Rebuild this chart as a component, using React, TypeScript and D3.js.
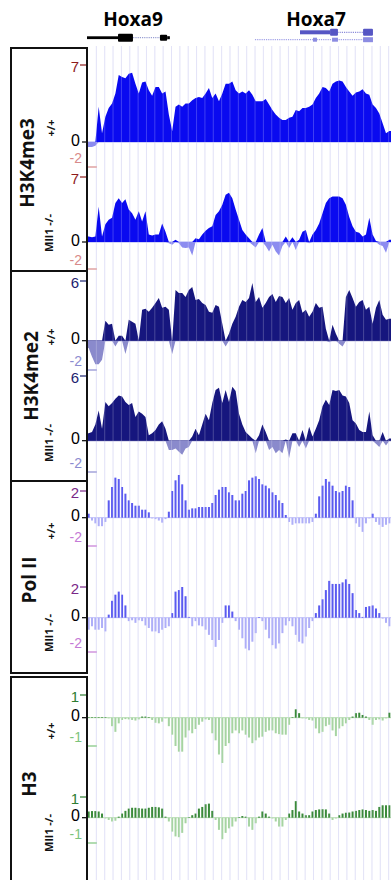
import React from "react";
import * as d3 from "d3";

const WIDTH = 391;
const HEIGHT = 880;
const PLOT_LEFT = 87;
const BIN_KB = 0.25;

// signal per 0.25 kb bin
const h3k4me3WT = [
  -0.4, -0.4, -0.3, 3.2, 0.8, 2.3, 3.1, 3.5, 4.4, 6.1,
  5.9, 5.8, 6.2, 6.3, 5.3, 4.4, 5.4, 5.5, 4.7, 4.2,
  5.0, 5.0, 4.4, 4.6, 2.5, 1.0, 3.2, 3.4, 3.2, 3.5,
  3.5, 3.8, 4.0, 4.1, 4.0, 4.4, 4.9, 4.0, 4.4, 3.7,
  4.4, 5.3, 5.3, 5.5, 4.7, 4.4, 4.6, 4.4, 4.7, 4.3,
  3.7, 3.7, 3.7, 3.9, 3.4, 2.9, 2.5, 2.2, 2.0, 2.0,
  2.2, 2.3, 2.9, 2.8, 3.1, 3.1, 3.2, 3.4, 4.0, 4.4,
  5.0, 4.9, 4.6, 5.3, 5.5, 5.6, 5.5, 5.0, 4.6, 4.2,
  4.5, 4.6, 4.8, 4.4, 4.3, 3.4, 3.1, 2.6, 1.7, 0.8,
  1.0,
];
const h3k4me3KO = [
  0.6, 0.5, 0.6, 3.8, 0.6, 1.9, 2.4, 2.6, 4.2, 4.7,
  4.2, 4.6, 3.5, 3.1, 2.4, 3.3, 2.2, 3.3, 0.8, 0.7,
  0.8, 0.8, 2.0, 1.1, -0.1, -0.2, 0.25, -0.1, -0.4, -0.45,
  -0.4, -1.0, 0.4, 0.3, 0.8, 1.2, 1.5, 1.7, 2.9, 3.3,
  4.0, 5.1, 5.3, 4.7, 3.5, 2.4, 1.3, 0.8, 0.4, -0.2,
  -0.4, 0.8, 1.5, -0.3, -0.7, -0.2, -0.7, -1.0, -0.3, 0.6,
  -0.45, 0.5, -0.6, 0.25, 1.1, 1.3, -0.1, 0.8, 1.3, 2.0,
  3.1, 4.2, 4.7, 4.9, 4.9, 4.9, 4.7, 4.0, 2.7, 1.7,
  1.1, 1.0, 0.6, 0.8, 2.6, 0.8, 0.1, -0.2, -0.3, -0.8,
  0.25,
];
const h3k4me2WT = [
  -0.5, -1.1, -1.6, -1.6, -1.3, 2.0, 1.6, 1.7, -0.4, 0.5,
  0.5, -0.9, 2.1, 1.9, 1.7, 0.05, 3.1, 3.2, 2.9, 3.3,
  3.8, 4.3, 3.3, 3.4, 3.1, -0.9, 5.1, 4.8, 4.8, 4.4,
  5.1, 5.4, 4.1, 4.2, 3.8, 3.6, 2.9, 2.8, 3.6, 3.4,
  1.7, -0.4, 0.7, 1.7, 2.4, 3.4, 4.1, 3.9, 4.3, 5.8,
  3.9, 4.4, 3.3, 3.8, 4.4, 4.7, 3.9, 4.5, 4.4, 3.8,
  4.3, 3.1, 3.8, 4.1, 2.8, 3.1, 2.4, 2.9, 3.8, 3.3,
  3.4, 1.2, -0.1, 1.6, 0.7, -0.2, -0.4, 4.4, 5.1, 4.3,
  3.4, 3.9, 4.1, 3.1, 3.4, 1.7, 3.3, 4.1, 2.6, 2.1,
  2.2,
];
const h3k4me2KO = [
  0.7, 0.8, 1.5, 2.8, 1.1, 3.6, 3.2, 3.5, 3.9, 4.2,
  4.1, 3.6, 3.3, 3.5, 2.2, 2.7, 2.5, 2.2, 0.5, 0.7,
  1.0, 1.5, 1.8, 1.1, -0.6, -0.6, -0.5, -0.7, -0.9, -0.5,
  -0.4, 0.4, 1.1, 0.5, 1.5, 2.5, 1.9, 3.5, 4.7, 4.9,
  3.5, 4.7, 3.6, 5.0, 4.6, 2.5, 1.5, 0.8, 0.5, 0.2,
  -0.8, 0.5, 1.5, 0.8, -0.6, -0.4, -0.8, -0.6, -0.8, 0.1,
  -1.1, 0.7, 0.7, -0.4, 1.0, -0.5, 1.3, 0.4, 1.1, 1.9,
  3.2, 3.8, 3.3, 4.7, 4.6, 4.7, 4.2, 4.1, 3.5, 1.9,
  1.6, 1.0, 0.8, 0.8, 2.7, 0.5, -0.2, -0.4, 0.8, -0.3,
  0.2,
];
const polIIWT = [
  0.3, -0.2, -0.4, -0.6, -0.6, -0.3, 1.3, 2.3, 3.0, 2.9,
  2.3, 1.8, 1.3, 1.1, 0.9, 0.9, 0.6, 0.6, 0.4, -0.05,
  -0.1, -0.2, -0.35, -0.1, 0.45, 2.0, 2.8, 3.2, 2.5, 1.3,
  0.6, 0.7, 0.7, 0.8, 0.8, 0.8, 0.8, 1.1, 1.7, 2.1,
  2.3, 2.3, 1.9, 1.7, 1.3, 1.3, 1.8, 2.0, 2.8, 3.0,
  3.1, 2.9, 2.5, 2.4, 2.2, 1.9, 1.7, 1.3, 1.1, 0.2,
  -0.3, -0.5, -0.4, -0.4, -0.4, -0.4, -0.4, -0.3, 0.3, 1.6,
  2.4, 2.9, 2.7, 2.4, 2.0, 1.9, 2.0, 2.4, 2.3, 1.3,
  -0.4, -0.65, -1.0, -0.4, -0.05, 0.3, -0.3, -0.5, -0.65, -0.5,
  -0.4,
];
const polIIKO = [
  -0.7, -0.5, -0.7, -0.7, -0.6, -0.8, 0.2, 1.1, 1.5, 1.7,
  1.5, 0.8, -0.2, -0.15, -0.3, -0.15, -0.2, -0.45, -0.6, -0.8,
  -0.8, -0.9, -0.7, -0.6, -0.5, 0.3, 1.7, 1.8, 2.0, 1.4,
  0.05, -0.5, -0.2, -0.45, -0.5, -0.7, -1.0, -1.3, -1.7, -1.3,
  -0.3, 0.8, 0.8, 0.4, -0.2, -0.7, -1.2, -1.8, -1.9, -1.4,
  -0.9, 0.0, -0.2, -0.7, -1.2, -1.6, -1.8, -1.5, -0.9, -0.45,
  -0.2, -0.5, -1.0, -1.4, -1.5, -1.1, -0.6, -0.2, 0.3, 0.8,
  1.2, 1.8, 2.4, 2.2, 2.2, 2.2, 2.3, 2.5, 2.2, 1.6,
  0.5, 0.3, 0.05, 0.7, 0.75, 0.8, 0.6, 0.3, -0.05, -0.3,
  -0.5,
];
const h3WT = [
  0.02, 0.02, 0.02, 0.02, 0.02, 0.02, -0.02, -0.3, -0.5, -0.2,
  -0.08, -0.05, -0.06, -0.08, -0.1, -0.06, 0.05, 0.05, 0.02, -0.08,
  -0.18, -0.2, -0.14, -0.02, -0.3, -0.6, -1.0, -1.2, -1.2, -0.7,
  -0.45, -0.55, -0.4, -0.25, -0.14, -0.06, -0.08, -0.55, -0.8, -1.3,
  -1.6, -1.0, -0.9, -0.55, -0.45, -0.55, -0.45, -0.6, -0.7, -0.9,
  -0.8, -0.7, -0.67, -0.5, -0.45, -0.45, -0.55, -0.58, -0.6, -0.6,
  -0.25, 0.0, 0.37, 0.2, -0.02, -0.03, -0.08, -0.1, -0.38, -0.55,
  -0.5, -0.3, -0.25, -0.45, -0.65, -0.38, -0.3, -0.2, -0.08, 0.05,
  0.2, 0.22, 0.12, 0.05, -0.08, -0.25, -0.08, -0.06, -0.1, -0.02,
  0.22,
];
const h3KO = [
  0.3, 0.32, 0.32, 0.3, 0.2, -0.03, -0.09, -0.15, -0.12, 0.05,
  0.2, 0.33, 0.44, 0.48, 0.48, 0.46, 0.44, 0.44, 0.48, 0.52,
  0.52, 0.5, 0.44, 0.05, -0.15, -0.55, -0.74, -0.77, -0.6, -0.22,
  0.0, 0.12, 0.2, 0.44, 0.52, 0.65, 0.68, 0.33, -0.09, -0.48,
  -0.85, -0.6, -0.42, -0.35, -0.15, 0.0, 0.08, 0.05, -0.35, -0.48,
  -0.22, 0.05, 0.3, 0.2, 0.05, -0.03, -0.15, -0.35, -0.35, -0.09,
  0.2, 0.37, 0.8, 0.3, 0.2, 0.12, 0.12, 0.3, 0.37, 0.4,
  0.41, 0.4, 0.2, -0.09, -0.03, 0.12, 0.2, 0.24, 0.25, 0.3,
  0.33, 0.37, 0.4, 0.37, 0.33, 0.37, 0.33, 0.52, 0.6, 0.6,
  0.6,
];

const N_BINS = h3k4me3WT.length;
const REGION_KB = N_BINS * BIN_KB;

// genes (kb)
const geneNames = ["Hoxa9", "Hoxa7"];
const geneNameKb = [3.44, 17.14];

interface Transcript {
  y: number;
  start: number;
  end: number;
  color: string;
  intron: string;
  blocks: [number, number, number][];
}

const transcripts: Transcript[] = [
  {
    y: 37.7, start: 0, end: 6.2, color: "#000", intron: "#8088c8",
    blocks: [[0, 2.32, 2.8], [2.32, 3.44, 8], [5.46, 6.0, 6], [6.0, 6.2, 3]],
  },
  {
    y: 32.3, start: 15.94, end: 21.4, color: "#5656c4", intron: "#7070d0",
    blocks: [[15.94, 18.19, 4], [18.19, 18.78, 7], [20.66, 21.4, 7]],
  },
  {
    y: 39.7, start: 12.57, end: 21.4, color: "#8c8ce2", intron: "#8c8ce2",
    blocks: [[16.91, 17.21, 4], [18.34, 18.78, 4], [20.66, 21.4, 5]],
  },
];

// vertical guide lines (kb)
const gridKb = d3.range(0.7, REGION_KB, 0.625);

interface TrackDef {
  values: number[];
  kind: "area" | "bar";
  lo: number;
  hi: number;
  yHi: number;
  y0: number;
  yLo: number;
  pos: string;
  neg: string;
  zero: string;
  hiColor: string;
  loColor: string;
}

const tracks: TrackDef[] = [
  { values: h3k4me3WT, kind: "area", lo: -2, hi: 7, yHi: 65, y0: 142, yLo: 167,
    pos: "#0a0af0", neg: "#8c8cf0", zero: "#a4a8f2", hiColor: "#8e1c1c", loColor: "#d88a8a" },
  { values: h3k4me3KO, kind: "area", lo: -2, hi: 7, yHi: 177, y0: 242, yLo: 269,
    pos: "#0a0af0", neg: "#8c8cf0", zero: "#a4a8f2", hiColor: "#8e1c1c", loColor: "#d88a8a" },
  { values: h3k4me2WT, kind: "area", lo: -2, hi: 6, yHi: 281, y0: 340.7, yLo: 370,
    pos: "#16167e", neg: "#8a8acc", zero: "#5a5aa8", hiColor: "#1c2370", loColor: "#8c8cd0" },
  { values: h3k4me2KO, kind: "area", lo: -2, hi: 6, yHi: 376, y0: 440.7, yLo: 472,
    pos: "#16167e", neg: "#8a8acc", zero: "#5a5aa8", hiColor: "#1c2370", loColor: "#8c8cd0" },
  { values: polIIWT, kind: "bar", lo: -2, hi: 2, yHi: 491, y0: 517.7, yLo: 546,
    pos: "#5a5af0", neg: "#aeaef8", zero: "#c0c0f8", hiColor: "#7a2888", loColor: "#c47ad6" },
  { values: polIIKO, kind: "bar", lo: -2, hi: 2, yHi: 587, y0: 617.7, yLo: 652,
    pos: "#5a5af0", neg: "#aeaef8", zero: "#c0c0f8", hiColor: "#7a2888", loColor: "#c47ad6" },
  { values: h3WT, kind: "bar", lo: -1, hi: 1, yHi: 695, y0: 717.7, yLo: 746,
    pos: "#3a8a3a", neg: "#a6d4a2", zero: "#b8dcb4", hiColor: "#2e7d32", loColor: "#7cc47c" },
  { values: h3KO, kind: "bar", lo: -1, hi: 1, yHi: 797, y0: 817.7, yLo: 843,
    pos: "#3a8a3a", neg: "#a6d4a2", zero: "#b8dcb4", hiColor: "#2e7d32", loColor: "#7cc47c" },
];

const groupNames = ["H3K4me3", "H3K4me2", "Pol II", "H3"];
const groupBoxes: [number, number][] = [[48, 271], [271, 481], [481, 673], [677, 886]];
const groupLabelPos: [number, number][] = [[27, 163], [31, 376], [29, 580], [29, 784]];
const genotypeLabels = ["+/+", "Mll1 -/-"];
const genotypeLabelPos: [number, number][][] = [
  [[50, 128], [48, 233]],
  [[50, 337], [48, 443]],
  [[50, 531], [48, 633]],
  [[50, 731], [48, 833]],
];

const TICK_FONT = "'Liberation Sans', Arial, sans-serif";

const x = d3.scaleLinear().domain([0, REGION_KB]).range([PLOT_LEFT, WIDTH]);

const Track: React.FC<{ t: TrackDef }> = ({ t }) => {
  const y = d3.scaleLinear().domain([t.lo, 0, t.hi]).range([t.yLo, t.y0, t.yHi]);
  const n = t.values.length;
  const binW = x(BIN_KB) - x(0);

  let marks: React.ReactNode;
  if (t.kind === "area") {
    const pts: [number, number][] = [
      [0, t.values[0]],
      ...t.values.map((v, i) => [(i + 0.5) * BIN_KB, v] as [number, number]),
      [n * BIN_KB, t.values[n - 1]],
    ];
    const posArea = d3.area<[number, number]>()
      .x((d) => x(d[0]))
      .y0(y(0))
      .y1((d) => y(Math.max(d[1], 0)));
    const negArea = d3.area<[number, number]>()
      .x((d) => x(d[0]))
      .y0(y(0))
      .y1((d) => y(Math.min(d[1], 0)));
    marks = (
      <g>
        <path d={negArea(pts) || ""} fill={t.neg} />
        <path d={posArea(pts) || ""} fill={t.pos} />
      </g>
    );
  } else {
    marks = t.values.map((v, i) => {
      const x0 = x(i * BIN_KB) + binW * 0.2;
      const h = Math.max(Math.abs(y(v) - y(0)), 0.6);
      const top = v >= 0 ? y(0) - h : y(0);
      return (
        <rect key={i} x={x0} y={top} width={binW * 0.6} height={h}
          fill={v >= 0 ? t.pos : t.neg} />
      );
    });
  }

  return (
    <g>
      <line x1={PLOT_LEFT} x2={WIDTH} y1={y(0)} y2={y(0)} stroke={t.zero} strokeWidth={1} />
      <g clipPath="url(#plotClip)">{marks}</g>
      {/* axis ticks */}
      <g fontFamily={TICK_FONT}>
        <line x1={80} x2={PLOT_LEFT} y1={y(t.hi)} y2={y(t.hi)} stroke={t.hiColor} strokeWidth={1.2} />
        <text x={79} y={y(t.hi) + 1.5} textAnchor="end" dominantBaseline="central" fill={t.hiColor}
          fontSize={15}>
          {t.hi}
        </text>
        <line x1={82} x2={PLOT_LEFT} y1={y(0)} y2={y(0)} stroke="#000" strokeWidth={1.2} />
        <text x={80} y={y(0) - 2} textAnchor="end" dominantBaseline="central" fill="#000" fontSize={16}>
          0
        </text>
        <line x1={PLOT_LEFT} x2={97} y1={y(t.lo)} y2={y(t.lo)} stroke={t.loColor} strokeWidth={1.2} />
        <text x={82} y={y(t.lo) - 4} textAnchor="end" fill={t.loColor} fontSize={14}>
          {t.lo}
        </text>
      </g>
    </g>
  );
};

export default function App() {
  return (
    <svg
      width={WIDTH}
      height={HEIGHT}
      style={{ position: "absolute", left: 0, top: 0, background: "#fff" }}
      fontFamily="'Open Sans', 'DejaVu Sans', sans-serif"
    >
      <defs>
        <clipPath id="plotClip">
          <rect x={PLOT_LEFT} y={0} width={WIDTH - PLOT_LEFT} height={HEIGHT} />
        </clipPath>
      </defs>
      <rect width={WIDTH} height={HEIGHT} fill="#fff" />

      {/* guide lines behind the data */}
      {gridKb.map((k, i) => (
        <line key={i} x1={x(k)} x2={x(k)} y1={46} y2={HEIGHT} stroke="#dcdcf6" strokeWidth={1} />
      ))}

      {/* gene names and models */}
      {geneNames.map((g, i) => (
        <text key={g} x={x(geneNameKb[i])} y={26} textAnchor="middle" fontSize={19}
          fontWeight={700} fill="#000">
          {g}
        </text>
      ))}
      {transcripts.map((tr, i) => (
        <g key={i}>
          <line x1={x(tr.start)} x2={x(tr.end)} y1={tr.y} y2={tr.y} stroke={tr.intron}
            strokeWidth={1} strokeDasharray="1.2 1" />
          {tr.blocks.map((b, j) => (
            <rect key={j} x={x(b[0])} y={tr.y - b[2] / 2} width={x(b[1]) - x(b[0])}
              height={b[2]} fill={tr.color} rx={b[2] > 5 ? 1 : 0} />
          ))}
        </g>
      ))}

      {tracks.map((t, i) => (
        <Track key={i} t={t} />
      ))}

      {/* light stripes over the data */}
      {gridKb.map((k, i) => (
        <line key={i} x1={x(k)} x2={x(k)} y1={46} y2={HEIGHT} stroke="#fff" strokeOpacity={0.22}
          strokeWidth={1} />
      ))}

      {/* label boxes */}
      {groupBoxes.map(([y0, y1], i) => (
        <rect key={i} x={11} y={y0} width={PLOT_LEFT - 11} height={y1 - y0} fill="none"
          stroke="#111" strokeWidth={2} />
      ))}
      {groupNames.map((g, i) => (
        <text key={g} transform={`translate(${groupLabelPos[i][0]},${groupLabelPos[i][1]}) rotate(-90)`}
          textAnchor="middle" dominantBaseline="central" fontSize={19} fontWeight={700} fill="#111">
          {g}
        </text>
      ))}
      {genotypeLabelPos.map((pair, i) =>
        pair.map(([lx, ly], j) => (
          <text key={`${i}-${j}`} transform={`translate(${lx},${ly}) rotate(-90)`}
            textAnchor="middle" dominantBaseline="central" fontSize={11} fontWeight={700} fill="#111">
            {genotypeLabels[j]}
          </text>
        ))
      )}
    </svg>
  );
}
